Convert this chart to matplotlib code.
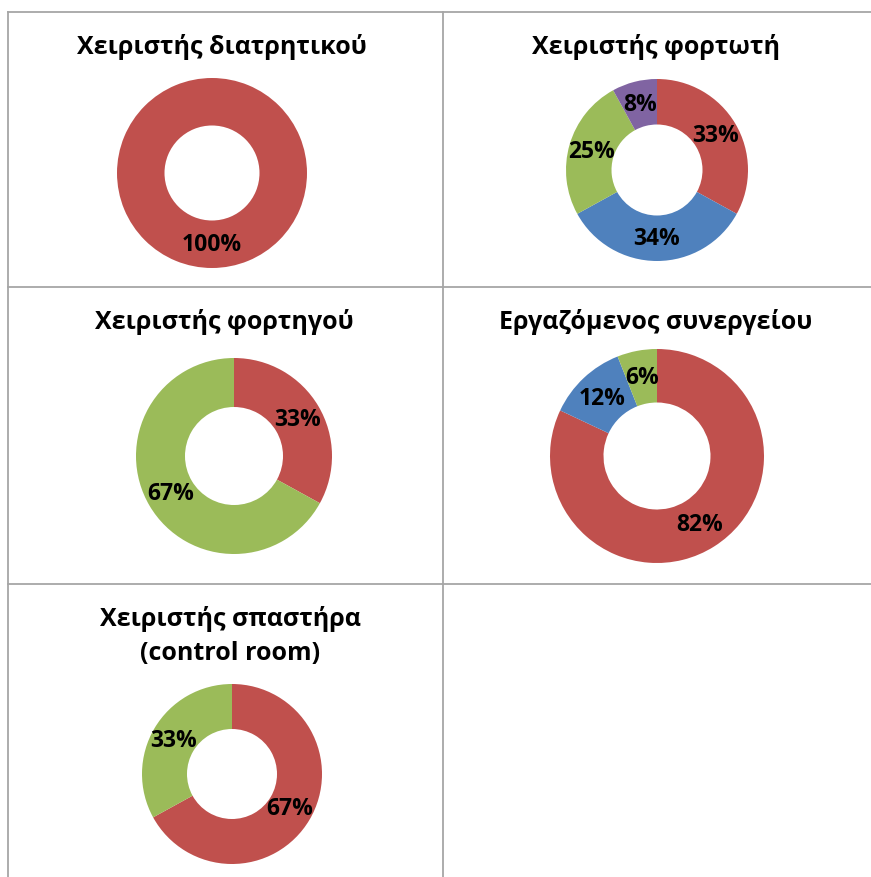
import matplotlib
matplotlib.use("Agg")
import matplotlib.pyplot as plt

plt.rcParams["font.family"] = ["Open Sans", "DejaVu Sans"]

W, H = 871, 878

RED, BLUE, GREEN, PURPLE = "#C0504D", "#4F81BD", "#9BBB59", "#8064A2"

# one donut per table cell, slices clockwise from 12 o'clock
titles = [
    "Χειριστής διατρητικού",
    "Χειριστής φορτωτή",
    "Χειριστής φορτηγού",
    "Εργαζόμενος συνεργείου",
    "Χειριστής σπαστήρα\n(control room)",
]
shares = [
    [100],
    [33, 34, 25, 8],
    [33, 67],
    [82, 12, 6],
    [67, 33],
]
slice_colors = [
    [RED],
    [RED, BLUE, GREEN, PURPLE],
    [RED, GREEN],
    [RED, BLUE, GREEN],
    [RED, GREEN],
]

# layout in pixels: title centre (x, y), donut centre (x, y), outer radius
title_pos = [(222, 47), (656, 47), (224, 322), (656, 322), (230, 636)]
donut_pos = [(212, 174, 95), (657, 171, 91), (234, 457, 98), (657, 457, 107), (232, 775, 90)]

fig = plt.figure(figsize=(W / 100, H / 100), dpi=100)
bg = fig.add_axes([0, 0, 1, 1])
bg.set_xlim(0, W)
bg.set_ylim(H, 0)
bg.axis("off")

# table grid
grid = dict(color="#A6A6A6", lw=1.3)
for y in (13, 288, 585):
    bg.plot([8, W], [y, y], **grid)
for x in (8, 443):
    bg.plot([x, x], [13, H], **grid)

for title, vals, cols, (tx, ty), (cx, cy, r) in zip(titles, shares, slice_colors,
                                                      title_pos, donut_pos):
    bg.text(tx, ty, title, ha="center", va="center", fontsize=18,
            fontweight="bold", linespacing=1.45)
    ax = fig.add_axes([(cx - r) / W, 1 - (cy + r) / H, 2 * r / W, 2 * r / H])
    ax.pie(vals, colors=cols, startangle=90, counterclock=False, radius=1,
           wedgeprops=dict(width=0.5, linewidth=0),
           autopct=lambda p: f"{p:.0f}%", pctdistance=0.75,
           textprops=dict(fontsize=16.5, fontweight="bold", color="black"))
    ax.set_xlim(-1, 1)
    ax.set_ylim(-1, 1)
    ax.axis("off")

fig.savefig("out.png", dpi=100)
